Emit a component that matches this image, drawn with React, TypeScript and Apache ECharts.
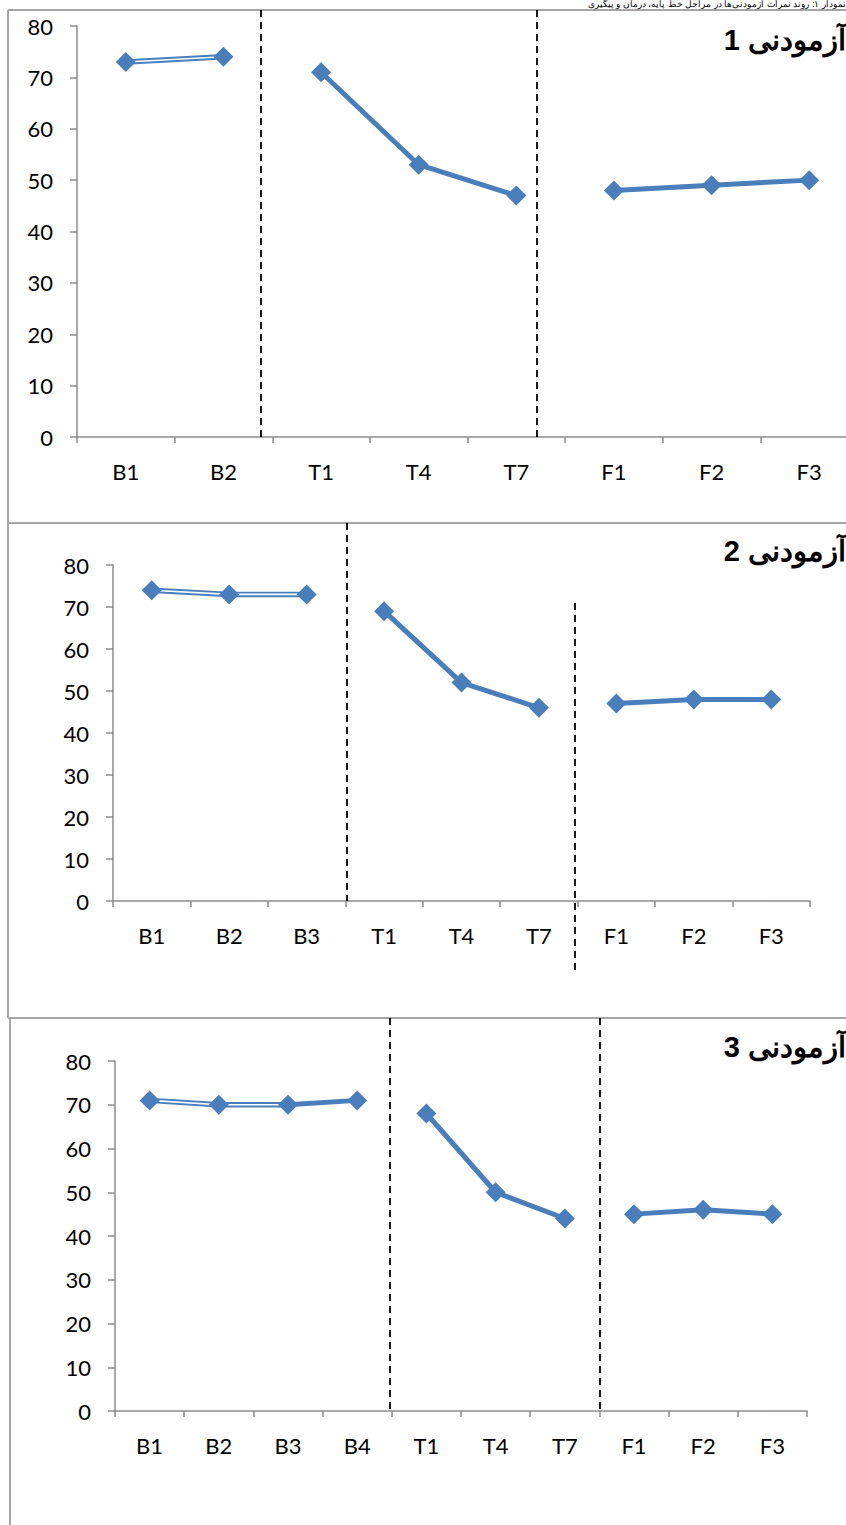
import React, { useEffect, useRef } from "react";
import * as echarts from "echarts";

const BLUE = "#4a7ebb";
const GRAY = "#8c8c8c";

// Panel 1
const cats1 = ["B1", "B2", "T1", "T4", "T7", "F1", "F2", "F3"];
const p1Baseline = [73, 74];
const p1Treatment = [71, 53, 47];
const p1Follow = [48, 49, 50];
const p1DoubleCount = 2;

// Panel 2
const cats2 = ["B1", "B2", "B3", "T1", "T4", "T7", "F1", "F2", "F3"];
const p2Baseline = [74, 73, 73];
const p2Treatment = [69, 52, 46];
const p2Follow = [47, 48, 48];
const p2DoubleCount = 3;

// Panel 3
const cats3 = ["B1", "B2", "B3", "B4", "T1", "T4", "T7", "F1", "F2", "F3"];
const p3Baseline = [71, 70, 70, 71];
const p3Treatment = [68, 50, 44];
const p3Follow = [45, 46, 45];
const p3DoubleCount = 3;

const yTicks = [0, 10, 20, 30, 40, 50, 60, 70, 80];
const titles = ["آزمودنی 1", "آزمودنی 2", "آزمودنی 3"];
const caption = "نمودار ۱: روند نمرات آزمودنی‌ها در مراحل خط پایه، درمان و پیگیری";

function pad(vals: number[], start: number, len: number) {
  const a: (number | null)[] = new Array(len).fill(null);
  vals.forEach((v, i) => (a[start + i] = v));
  return a;
}

function panelSeries(
  gi: number,
  cats: string[],
  base: number[],
  treat: number[],
  follow: number[],
  dbl: number
) {
  const n = cats.length;
  const out: any[] = [];
  const dblData = pad(base.slice(0, dbl), 0, n);
  out.push({
    type: "line", xAxisIndex: gi, yAxisIndex: gi, data: dblData, symbol: "none",
    lineStyle: { color: BLUE, width: 5.5 }, z: 2,
  });
  out.push({
    type: "line", xAxisIndex: gi, yAxisIndex: gi, data: dblData, symbol: "none",
    lineStyle: { color: "#ffffff", width: 1.6 }, z: 3,
  });
  if (base.length > dbl) {
    out.push({
      type: "line", xAxisIndex: gi, yAxisIndex: gi,
      data: pad(base.slice(dbl - 1), dbl - 1, n), symbol: "none",
      lineStyle: { color: BLUE, width: 5 }, z: 2,
    });
  }
  out.push({
    type: "line", xAxisIndex: gi, yAxisIndex: gi,
    data: pad(treat, base.length, n), symbol: "none",
    lineStyle: { color: BLUE, width: 5 }, z: 2,
  });
  out.push({
    type: "line", xAxisIndex: gi, yAxisIndex: gi,
    data: pad(follow, base.length + treat.length, n), symbol: "none",
    lineStyle: { color: BLUE, width: 5 }, z: 2,
  });
  out.push({
    type: "scatter", xAxisIndex: gi, yAxisIndex: gi,
    data: [...base, ...treat, ...follow], symbol: "diamond", symbolSize: 20,
    itemStyle: { color: BLUE, opacity: 1 }, z: 4,
  });
  return out;
}

function xAxisDef(gi: number, cats: string[]) {
  return {
    type: "category", gridIndex: gi, data: cats, boundaryGap: true,
    axisLine: { lineStyle: { color: GRAY, width: 1.5 } },
    axisTick: { show: true, length: 6, lineStyle: { color: GRAY, width: 1.5 } },
    axisLabel: { color: "#000", fontSize: 22, fontFamily: "Lato", margin: 23 },
  };
}

function yAxisDef(gi: number) {
  return {
    type: "value", gridIndex: gi, min: yTicks[0], max: yTicks[yTicks.length - 1], interval: 10,
    axisLine: { show: true, lineStyle: { color: GRAY, width: 1.5 } },
    axisTick: { show: true, length: 7, lineStyle: { color: GRAY, width: 1.5 } },
    splitLine: { show: false },
    axisLabel: { color: "#000", fontSize: 22, fontFamily: "Lato", margin: 24 },
  };
}

function hline(x1: number, y1: number, x2: number, y2: number, stroke: string, w: number, dash?: number[]) {
  return {
    type: "line", shape: { x1, y1, x2, y2 },
    style: { stroke, lineWidth: w, lineDash: dash },
    z: 1,
  };
}

function titleText(y: number, t: string) {
  return {
    type: "text", x: 846, y, z: 10,
    style: {
      text: "\u202B" + t + "\u202C", fill: "#000", font: "bold 29px 'Liberation Sans', Arial",
      textAlign: "right", textVerticalAlign: "middle",
    },
  };
}

export default function App() {
  const ref = useRef<HTMLDivElement>(null);
  useEffect(() => {
    if (!ref.current) return;
    const chart = echarts.init(ref.current, null, { renderer: "svg" });
    const option: any = {
      animation: false,
      backgroundColor: "#ffffff",
      grid: [
        { left: 77, top: 26, width: 781, height: 411 },
        { left: 113, top: 565, width: 697, height: 336 },
        { left: 115, top: 1061, width: 692, height: 350 },
      ],
      xAxis: [xAxisDef(0, cats1), xAxisDef(1, cats2), xAxisDef(2, cats3)],
      yAxis: [yAxisDef(0), yAxisDef(1), yAxisDef(2)],
      series: [
        ...panelSeries(0, cats1, p1Baseline, p1Treatment, p1Follow, p1DoubleCount),
        ...panelSeries(1, cats2, p2Baseline, p2Treatment, p2Follow, p2DoubleCount),
        ...panelSeries(2, cats3, p3Baseline, p3Treatment, p3Follow, p3DoubleCount),
      ],
      graphic: [
        // panel borders
        hline(8, 10, 870, 10, "#a6a6a6", 2),
        hline(8, 10, 8, 523, "#a6a6a6", 2),
        hline(8, 523, 870, 523, "#a6a6a6", 2),
        hline(8, 523, 8, 1018, "#a6a6a6", 2),
        hline(8, 1018, 870, 1018, "#a6a6a6", 2),
        hline(10, 1018, 10, 1525, "#a6a6a6", 2),
        // phase separators
        hline(261, 10, 261, 437, "#000", 1.8, [7, 5]),
        hline(537, 10, 537, 437, "#000", 1.8, [7, 5]),
        hline(347, 523, 347, 901, "#000", 1.8, [7, 5]),
        hline(575, 603, 575, 975, "#000", 1.8, [7, 5]),
        hline(390, 1018, 390, 1411, "#000", 1.8, [7, 5]),
        hline(600, 1018, 600, 1411, "#000", 1.8, [7, 5]),
        // caption at very top
        {
          type: "text", x: 846, y: 4, z: 10,
          style: {
            text: "\u202B" + caption + "\u202C",
            fill: "#000", font: "9px 'Liberation Sans', Arial",
            textAlign: "right", textVerticalAlign: "middle",
          },
        },
        titleText(40, titles[0]),
        titleText(551, titles[1]),
        titleText(1047, titles[2]),
      ],
    };
    chart.setOption(option);
    return () => chart.dispose();
  }, []);
  return (
    <div
      style={{ position: "absolute", left: 0, top: 0, width: 846, height: 1525, overflow: "hidden" }}
    >
      <div ref={ref} style={{ width: 870, height: 1525 }} />
    </div>
  );
}
